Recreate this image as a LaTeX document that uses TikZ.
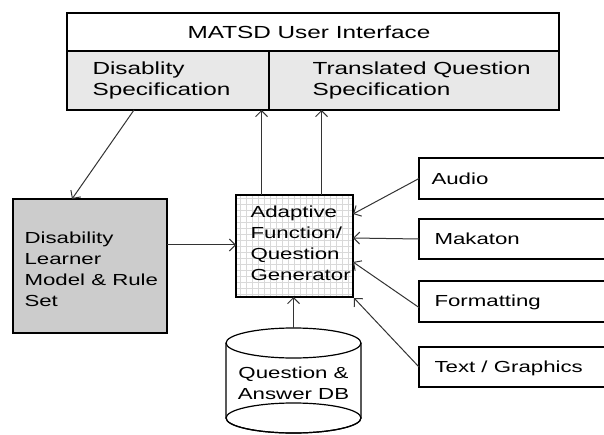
\documentclass[tikz,border=0pt]{standalone}
\usepackage{fontspec}
\setmainfont{Liberation Sans}[FakeStretch=1.39]
\usetikzlibrary{arrows.meta}
\begin{document}
\begin{tikzpicture}[x=1pt,y=-1pt,
  box/.style={draw=black, line width=1.3pt, anchor=north west, inner sep=0pt, outer sep=0pt},
  txt/.style={font=\fontsize{16}{21}\selectfont, align=left},
  toptxt/.style={font=\fontsize{17.5}{21}\selectfont, align=left},
  conn/.style={draw=black!80, line width=1pt, -{Straight Barb[length=6pt,width=12pt]}}]
\useasboundingbox (0,0) rectangle (604,435);
\clip (0,0) rectangle (604,435);
% top interface
\node[box, fill=white, minimum width=492pt, minimum height=38pt] (ui) at (67,13) {};
\node[toptxt] (uit) at (309,32) {MATSD User Interface};
\node[box, fill=black!9, minimum width=202pt, minimum height=59pt] (ds) at (67,51) {};
\node[box, fill=black!9, minimum width=290pt, minimum height=59pt] (tq) at (269,51) {};
\node[toptxt, anchor=west] (dst) at (89,80) {Disablity\\Specification};
\node[toptxt, anchor=west] (tqt) at (309,80) {Translated Question\\Specification};
% gray box
\node[box, fill=black!20, minimum width=154pt, minimum height=134pt] (dl) at (13,199) {};
\node[txt, anchor=west] (dlt) at (21,269) {Disability\\Learner\\Model \& Rule\\Set};
% adaptive box
\fill[white] (236,195) rectangle (353,297);
\draw[black!15, line width=0.5pt, step=6pt] (236,195) grid (353,297);
\node[box, minimum width=117pt, minimum height=102pt] (ad) at (236,195) {};
\node[txt, anchor=west] (adt) at (247,243) {Adaptive\\Function/\\Question\\Generator};
% right boxes
\node[box, fill=white, minimum width=200pt, minimum height=41pt] (au) at (419,158) {};
\node[txt, anchor=west] (aut) at (428,179) {Audio};
\node[box, fill=white, minimum width=200pt, minimum height=40pt] (mk) at (419,219) {};
\node[txt, anchor=west] (mkt) at (431,239) {Makaton};
\node[box, fill=white, minimum width=200pt, minimum height=41pt] (fm) at (419,281) {};
\node[txt, anchor=west] (fmt) at (431,302) {Formatting};
\node[box, fill=white, minimum width=200pt, minimum height=40pt] (tg) at (419,347) {};
\node[txt, anchor=west] (tgt) at (431,368) {Text / Graphics};
% cylinder
\draw[line width=1.2pt, fill=white] (226,343) -- (226,418) arc[start angle=180, end angle=360, x radius=67.5pt, y radius=15pt] -- (361,343);
\draw[line width=1.2pt] (293.5,418) ellipse[x radius=67.5pt, y radius=15pt];
\draw[line width=1.2pt, fill=white] (293.5,343) ellipse[x radius=67.5pt, y radius=15pt];
\coordinate (dbtop) at (293.5,328);
\node[txt, align=center] (dbt) at (293.5,383) {Question \&\\Answer DB};
% connectors
\draw[conn] ([xshift=-34pt]ds.south) -- ([xshift=-18pt]dl.north);
\draw[conn] ([xshift=-33pt]ad.north) -- ([xshift=-33pt]ad.north |- ds.south);
\draw[conn] ([xshift=27pt]ad.north) -- ([xshift=27pt]ad.north |- tq.south);
\draw[conn] ([yshift=21pt]dl.east) -- ([yshift=21pt]dl.east -| ad.west);
\draw[conn] (au.west) -- ([yshift=32pt]ad.east);
\draw[conn] (mk.west) -- ([yshift=8pt]ad.east);
\draw[conn] ([yshift=-6pt]fm.west) -- ([yshift=-16pt]ad.east);
\draw[conn] (tg.west) -- ([xshift=1pt,yshift=-1pt]ad.south east);
\draw[conn] (dbtop) -- (dbtop |- ad.south);
\end{tikzpicture}
\end{document}
